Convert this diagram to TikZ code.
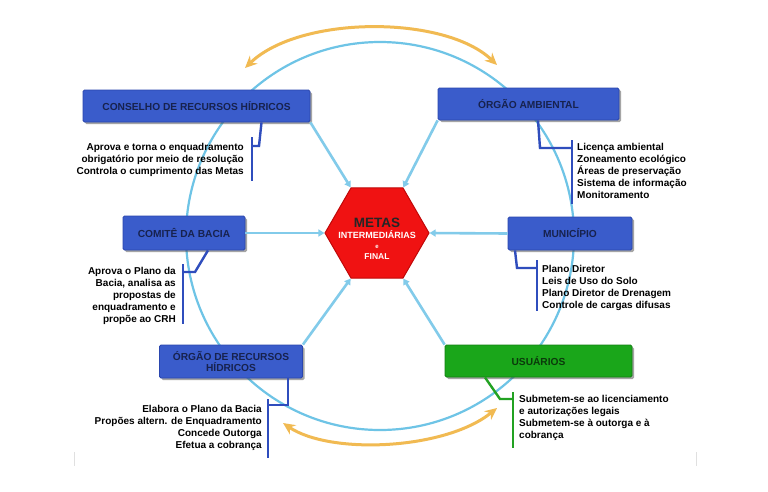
\documentclass[tikz,border=0pt]{standalone}
\usepackage{fontspec}
\setmainfont{Liberation Sans}
\usetikzlibrary{arrows.meta,shapes.geometric,shadows}

\definecolor{azulcaixa}{HTML}{3A5CCB}
\definecolor{azulborda}{HTML}{2A46AE}
\definecolor{azultexto}{HTML}{17224E}
\definecolor{verdecaixa}{HTML}{1AA61A}
\definecolor{verdeborda}{HTML}{128012}
\definecolor{verdetexto}{HTML}{0B3A0B}
\definecolor{ciano}{HTML}{6EC4E6}
\definecolor{setaazul}{HTML}{82CBEA}
\definecolor{laranja}{HTML}{F1BA52}
\definecolor{vermelho}{HTML}{F01212}
\definecolor{vermelhoesc}{HTML}{C00808}
\definecolor{chave}{HTML}{2F4DBD}
\definecolor{chaveverde}{HTML}{22A222}

\begin{document}
\begin{tikzpicture}[x=1pt,y=-1pt,
    caixa/.style={draw=azulborda,fill=azulcaixa,rounded corners=1.5pt,line width=0.8pt,
      text=azultexto,font=\bfseries\fontsize{10.2}{11.5}\selectfont,align=center,inner sep=0pt,
      drop shadow={shadow xshift=2pt,shadow yshift=-2pt,fill=black!70}},
    caixaverde/.style={caixa,draw=verdeborda,fill=verdecaixa,text=verdetexto},
    texto/.style={font=\bfseries\fontsize{10}{12}\selectfont,inner sep=0pt},
    chaves/.style={draw=chave,line width=2.4pt},
    ligacao/.style={draw=setaazul,line width=2.6pt,-{Triangle[length=6pt,width=7pt]}},
    troca/.style={draw=laranja,line width=3pt,
      {Stealth[length=12pt,width=11pt]}-{Stealth[length=12pt,width=11pt]}}]
  \useasboundingbox[fill=white] (0,0) rectangle (768,491);

  % circle round the goals, and the two exchanges
  \draw[ciano,line width=2.2pt] (380,236) circle[radius=194];
  \draw[troca] (245,68) .. controls (300,15) and (445,15) .. (497,65);
  \draw[troca] (283,423) .. controls (330,455) and (445,450) .. (497,408);

  \node[regular polygon,regular polygon sides=6,minimum size=104pt,inner sep=0pt,
    fill=vermelho,draw=vermelhoesc,line width=1pt] (metas) at (377,233) {};
  \node[align=center,inner sep=0pt,font=\bfseries] (metastxt) at (377,239)
    {{\color{black!85}\fontsize{13.5}{14}\selectfont METAS}\\[-1pt]
     {\color{white}\fontsize{9}{10}\selectfont INTERMEDIÁRIAS}\\[-2pt]
     {\color{white}\fontsize{6}{8}\selectfont e}\\[-1pt]
     {\color{white}\fontsize{8.5}{10}\selectfont FINAL}};

  \node[caixa,minimum width=227pt,minimum height=32pt] (crh) at (196.5,106) {CONSELHO DE RECURSOS HÍDRICOS};
  \node[caixa,minimum width=181pt,minimum height=32pt] (amb) at (528.5,104) {ÓRGÃO AMBIENTAL};
  \node[caixa,minimum width=122pt,minimum height=34pt] (comite) at (184,233) {COMITÊ DA BACIA};
  \node[caixa,minimum width=124pt,minimum height=33pt] (mun) at (570,233.5) {MUNICÍPIO};
  \node[caixa,minimum width=143pt,minimum height=33pt] (orh) at (231,361.5) {ÓRGÃO DE RECURSOS\\HÍDRICOS};
  \node[caixaverde,minimum width=187pt,minimum height=32pt] (usu) at (538.5,361) {USUÁRIOS};

  \draw[ligacao] (crh.south east) -- (metas.120);
  \draw[ligacao] (amb.south west) -- (metas.60);
  \draw[ligacao] (comite.east) -- (metas.180);
  \draw[ligacao] (mun.west) -- (metas.0);
  \draw[ligacao] (orh.north east) -- (metas.240);
  \draw[ligacao] (usu.north west) -- (metas.300);

  \node[texto,anchor=east,align=right] (crhtxt) at (244,160)
    {Aprova e torna o enquadramento\\obrigatório por meio de resolução\\Controla o cumprimento das Metas};
  \node[texto,anchor=west,align=left] (ambtxt) at (577,171)
    {Licença ambiental\\Zoneamento ecológico\\Áreas de preservação\\Sistema de informação\\Monitoramento};
  \node[texto,anchor=east,align=right] (comtxt) at (176,296)
    {Aprova o Plano da\\Bacia, analisa as\\propostas de\\enquadramento e\\propõe ao CRH};
  \node[texto,anchor=west,align=left] (muntxt) at (542,288)
    {Plano Diretor\\Leis de Uso do Solo\\Plano Diretor de Drenagem\\Controle de cargas difusas};
  \node[texto,anchor=east,align=right] (orhtxt) at (262,428)
    {Elabora o Plano da Bacia\\Propões altern. de Enquadramento\\Concede Outorga\\Efetua a cobrança};
  \node[texto,anchor=west,align=left] (usutxt) at (519,418)
    {Submetem-se ao licenciamento\\e autorizações legais\\Submetem-se à outorga e à\\cobrança};

  % brackets from each box to its list
  \draw[chaves] ([xshift=65pt]crh.south) -- (259,146) -- (252,146);
  \draw[chaves] (252,137) -- (252,181);
  \draw[chaves] ([xshift=9.5pt]amb.south) -- (540,148) -- (572,148);
  \draw[chaves] (572,140) -- (572,204);
  \draw[chaves] ([xshift=24pt]comite.south) -- (195,272) -- (183,272);
  \draw[chaves] (183,264) -- (183,324);
  \draw[chaves] ([xshift=-55pt]mun.south) -- (517,268) -- (537,268);
  \draw[chaves] (537,260) -- (537,311);
  \draw[chaves] ([xshift=57pt]orh.south) -- (288,405) -- (268,405);
  \draw[chaves] (268,399) -- (268,458);
  \draw[chaves,draw=chaveverde] ([xshift=-53.5pt]usu.south) -- (500,399) -- (513,399);
  \draw[chaves,draw=chaveverde] (513,392) -- (513,448);

  \draw[black!12,line width=0.8pt] (74,452) -- (74,466);
  \draw[black!12,line width=0.8pt] (696,452) -- (696,466);
\end{tikzpicture}
\end{document}
